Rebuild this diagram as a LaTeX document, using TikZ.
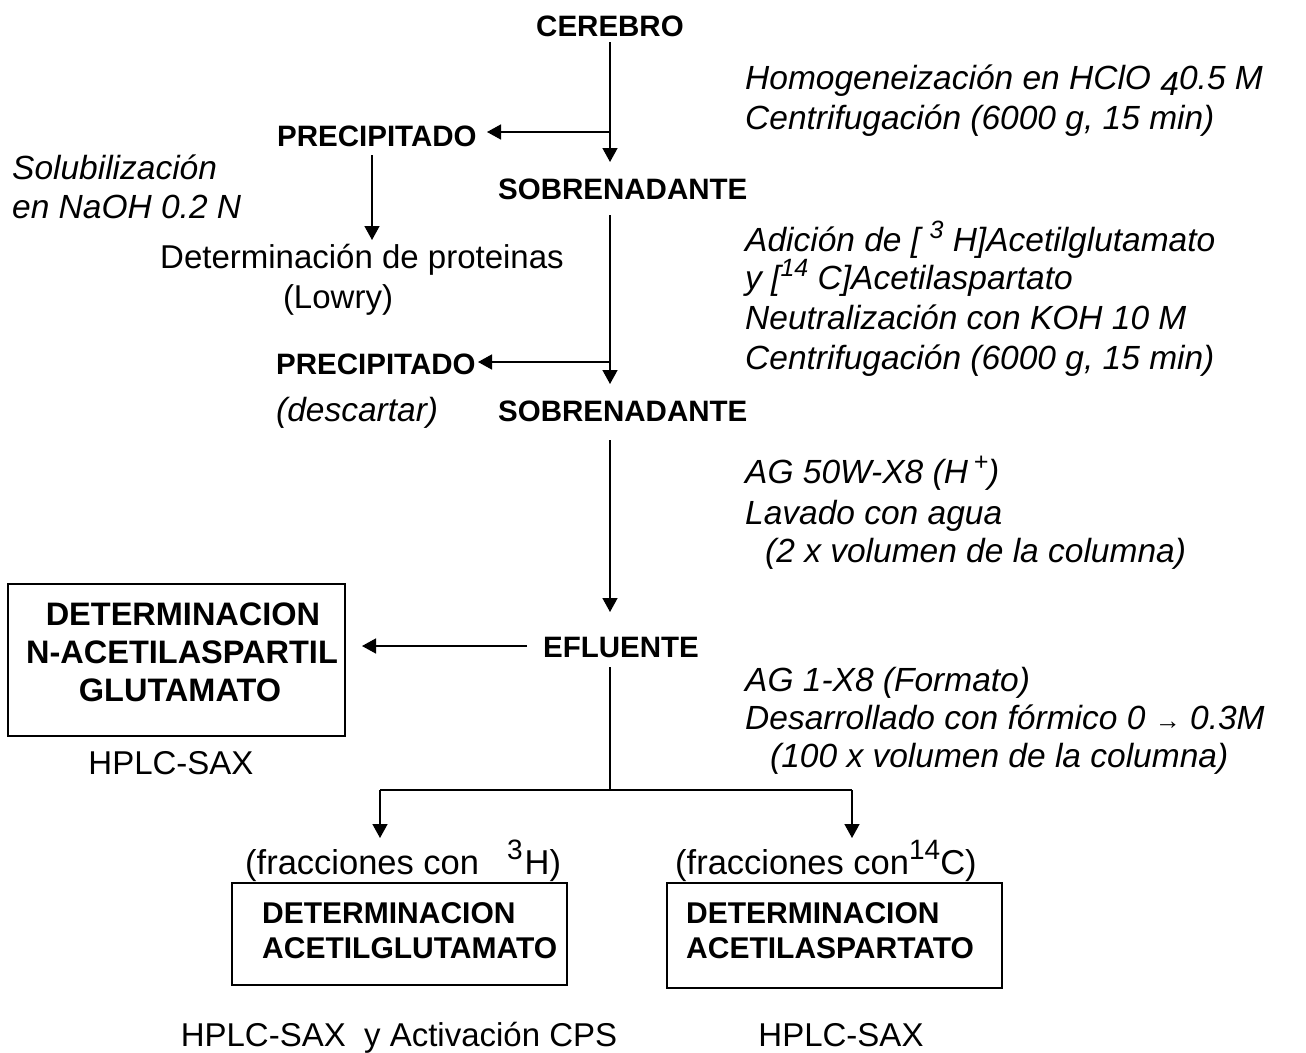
\documentclass[tikz,border=0pt]{standalone}
\usepackage{fontspec}
\setmainfont{Liberation Sans}
\usetikzlibrary{arrows.meta}
\newcommand{\sprs}[1]{\raisebox{0.36em}{\fontsize{25}{25}\selectfont #1}}
\newcommand{\sprf}[1]{\raisebox{0.42em}{\fontsize{28}{28}\selectfont #1}}
\begin{document}
\begin{tikzpicture}[x=1pt,y=-1pt,
  ln/.style={line width=1.5pt},
  arr/.style={ln,-{Triangle[length=14pt,width=15pt]}},
  bf/.style={font=\fontsize{29.5}{36}\selectfont\bfseries, inner sep=0pt},
  bfb/.style={font=\fontsize{30}{36}\selectfont\bfseries, inner sep=0pt},
  bfl/.style={font=\fontsize{32.5}{38}\selectfont\bfseries, inner sep=0pt, align=center},
  it/.style={font=\fontsize{33.5}{40}\selectfont\itshape, inner sep=0pt},
  rm/.style={font=\fontsize{33}{40}\selectfont, inner sep=0pt},
  rmf/.style={font=\fontsize{34.5}{40}\selectfont, inner sep=0pt},
  boxr/.style={draw, line width=1.5pt}]
\useasboundingbox[fill=white] (0,0) rectangle (1306,1052);

% main column texts
\node[bf, anchor=base] (cerebro) at (610,36) {CEREBRO};
\node[bf, anchor=base west] (prec1) at (277,146) {PRECIPITADO};
\node[bf, anchor=base west] (sob1) at (498,199) {SOBRENADANTE};
\node[bf, anchor=base west] (prec2) at (276,374) {PRECIPITADO};
\node[it, anchor=base west] (desc) at (276,421) {(descartar)};
\node[bf, anchor=base west] (sob2) at (498,421) {SOBRENADANTE};
\node[bf, anchor=base west] (eflu) at (543,657) {EFLUENTE};

% side notes
\node[it, anchor=base west] (n1a) at (745,89) {Homogeneización en HClO \raisebox{-0.18em}{4}0.5 M};
\node[it, anchor=base west] (n1b) at (745,129) {Centrifugación (6000 g, 15 min)};
\node[it, anchor=base west] (s1) at (12,179) {Solubilización};
\node[it, anchor=base west] (s2) at (12,218) {en NaOH 0.2 N};
\node[rm, anchor=base] (det) at (362,268) {Determinación de proteinas};
\node[rm, anchor=base] (lowry) at (338,308) {(Lowry)};
\node[it, anchor=base west] (n2a) at (745,251) {Adición de [\ \sprs{3}\ H]Acetilglutamato};
\node[it, anchor=base west] (n2b) at (745,289) {y [\sprs{14}\ C]Acetilaspartato};
\node[it, anchor=base west] (n2c) at (745,329) {Neutralización con KOH 10 M};
\node[it, anchor=base west] (n2d) at (745,369) {Centrifugación (6000 g, 15 min)};
\node[it, anchor=base west] (n3a) at (745,483) {AG 50W-X8 (H\,\sprs{+})};
\node[it, anchor=base west] (n3b) at (745,524) {Lavado con agua};
\node[it, anchor=base west] (n3c) at (765,562) {(2 x volumen de la columna)};
\node[it, anchor=base west] (n4a) at (745,691) {AG 1-X8 (Formato)};
\node[it, anchor=base west] (n4b) at (745,729) {Desarrollado con fórmico 0 {\fontsize{26}{26}\selectfont →} 0.3M};
\node[it, anchor=base west] (n4c) at (770,767) {(100 x volumen de la columna)};

% left box
\node[boxr, minimum width=337pt, minimum height=152pt, inner sep=0pt] (boxL) at (176.5,660) {};
\node[bfl, anchor=base] (bl1) at (183,625) {DETERMINACION};
\node[bfl, anchor=base] (bl2) at (182,663) {N-ACETILASPARTIL};
\node[bfl, anchor=base] (bl3) at (180,701) {GLUTAMATO};
\node[rm, anchor=base] (hplc1) at (171,774) {HPLC-SAX};

% bottom boxes
\node[rmf, anchor=base west] (fr1) at (245,874) {(fracciones con\hspace{28pt}\sprf{3}\hspace{2pt}H)};
\node[rmf, anchor=base west] (fr2) at (675,874) {(fracciones con\sprf{14}C)};
\node[boxr, minimum width=335pt, minimum height=102pt, inner sep=0pt] (boxA) at (399.5,934) {};
\node[boxr, minimum width=335pt, minimum height=105pt, inner sep=0pt] (boxB) at (834.5,935.5) {};
\node[bfb, anchor=base west] (ba1) at (262,923) {DETERMINACION};
\node[bfb, anchor=base west] (ba2) at (262,958) {ACETILGLUTAMATO};
\node[bfb, anchor=base west] (bb1) at (686,923) {DETERMINACION};
\node[bfb, anchor=base west] (bb2) at (686,958) {ACETILASPARTATO};
\node[rm, anchor=base] (hplc2) at (399,1046) {HPLC-SAX\ \ y Activación CPS};
\node[rm, anchor=base] (hplc3) at (841,1046) {HPLC-SAX};

% connector points
\coordinate (j1) at (610,132);
\coordinate (t1) at (610,162);
\coordinate (pt1) at (487,132);
\coordinate (d1) at (372,240);
\coordinate (j2) at (610,362);
\coordinate (t2) at (610,384);
\coordinate (pt2) at (478,362);
\coordinate (t3) at (610,612);
\coordinate (tL) at (362,646);
\coordinate (j4) at (610,790);
\coordinate (jl) at (380,790);
\coordinate (jr) at (852,790);
\coordinate (tl) at (380,838);
\coordinate (tr) at (852,838);

% connectors
\draw[arr] ([yshift=-6pt]cerebro.south) -- (t1);
\draw[arr] (j1) -- (pt1);
\draw[arr] (prec1.south -| d1) ++(0,9) -- (d1);
\draw[arr] (sob1.south -| j2) ++(0,16) -- (t2);
\draw[arr] (sob2.south -| t3) ++(0,19) -- (t3);
\draw[arr] (j2) -- (pt2);
\draw[arr] (eflu.west |- tL) ++(-16,0) -- (tL);
\draw[ln] (eflu.south -| j4) ++(0,10) -- (j4);
\draw[ln] (jl) -- (jr);
\draw[arr] (jl) -- (tl);
\draw[arr] (jr) -- (tr);
\end{tikzpicture}
\end{document}
